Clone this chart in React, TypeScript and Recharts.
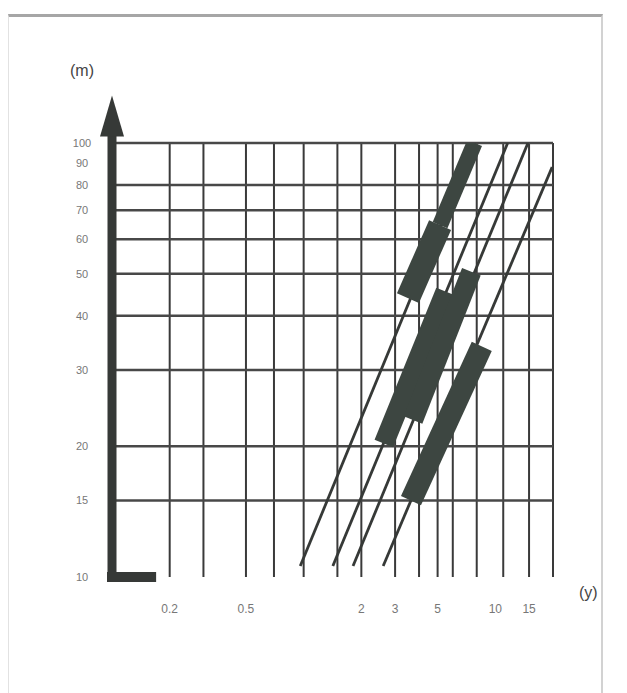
import { LineChart, Line, XAxis, YAxis, CartesianGrid, ReferenceLine } from 'recharts'

// grid positions on the log-log paper
const xGrid = [0.2, 0.3, 0.4, 0.5, 0.6, 0.7, 0.8, 0.9, 1, 1.5, 2, 2.5, 3, 4, 5, 6, 7, 8, 9, 10, 11, 12, 13, 14, 15, 16, 18, 20]
const yGrid = [15, 20, 30, 40, 50, 60, 70, 80, 90, 100]
const xTicks = [0.2, 0.5, 2, 3, 5, 10, 15]
const yTicks = [10, 15, 20, 30, 40, 50, 60, 70, 80, 90, 100]

// thin diagonal lines (x in years, y in metres)
const line1 = [{ x: 0.96, y: 10.6 }, { x: 7.8, y: 100 }]
const line2 = [{ x: 1.42, y: 10.6 }, { x: 11.6, y: 100 }]
const line3 = [{ x: 1.81, y: 10.6 }, { x: 14.8, y: 100 }]
const line4 = [{ x: 2.6, y: 10.6 }, { x: 19.8, y: 88 }]

// thick bands laid over the lines
const bandA1 = [{ x: 3.5, y: 43.9 }, { x: 5.15, y: 64.7 }]
const bandA2 = [{ x: 5.15, y: 64.7 }, { x: 7.8, y: 100 }]
const bandB1 = [{ x: 2.62, y: 20.3 }, { x: 5.5, y: 45.5 }]
const bandB2 = [{ x: 3.72, y: 23 }, { x: 7.5, y: 50.5 }]
const bandC = [{ x: 3.63, y: 15 }, { x: 8.5, y: 34 }]

const thin = [line1, line2, line3, line4]
const bands = [
  { data: bandA1, w: 24 },
  { data: bandA2, w: 16 },
  { data: bandB1, w: 20 },
  { data: bandB2, w: 20 },
  { data: bandC, w: 22 },
]

const ink = '#363937'
const bandInk = '#3d4641'

const Arrow = (p: any) => (
  <g>
    <line x1={p.x1} y1={p.y1} x2={p.x2} y2={p.y2} stroke={ink} strokeWidth={9} />
    <polygon points={`${p.x2 - 12},${p.y2 + 1} ${p.x2 + 12},${p.y2 + 1} ${p.x2},${p.y2 - 40}`} fill={ink} />
  </g>
)

export default function App() {
  return (
    <div style={{ position: 'relative', width: 610, height: 685, fontFamily: '"Liberation Sans", Arial, sans-serif' }}>
      <div style={{
        position: 'absolute', left: 0, top: 6, width: 592, height: 690,
        borderTop: '3px solid #a6a6a6', borderLeft: '1px solid #e2e2e2', borderRight: '2px solid #d2d2d2'
      }} />
      <div style={{ position: 'absolute', left: 0, top: 0 }}>
        <LineChart width={610} height={680} margin={{ top: 135, right: 65, bottom: 81, left: 44 }}>
          <CartesianGrid horizontal={false} verticalValues={xGrid} stroke="#3a3a3a" strokeWidth={2} />
          <CartesianGrid vertical={false} horizontalValues={yGrid} stroke="#484848" strokeWidth={2.5} />
          <XAxis
            dataKey="x" type="number" scale="log" domain={[0.1, 20]} allowDataOverflow
            ticks={xTicks} axisLine={false} tickLine={false} tickSize={0} tickMargin={27} height={30}
            tick={{ fontSize: 12, fill: '#777' }}
            label={{ value: '(y)', position: 'right', offset: 26, fontSize: 16, fill: '#444' }}
          />
          <YAxis
            type="number" scale="log" domain={[10, 100]} allowDataOverflow
            ticks={yTicks} axisLine={false} tickLine={false} tickSize={0} tickMargin={30} width={60}
            tick={{ fontSize: 11, fill: '#777', textAnchor: 'middle' }}
            label={{ value: '(m)', position: 'top', offset: 67, fontSize: 16, fill: '#444' }}
          />
          {thin.map((d, i) => (
            <Line key={'l' + i} data={d} dataKey="y" type="linear" dot={false}
              stroke={ink} strokeWidth={2.8} isAnimationActive={false} />
          ))}
          {bands.map((b, i) => (
            <Line key={'b' + i} data={b.data} dataKey="y" type="linear" dot={false}
              stroke={bandInk} strokeWidth={b.w} isAnimationActive={false} />
          ))}
          <ReferenceLine segment={[{ x: 0.1, y: 10 }, { x: 0.1, y: 104 }]} ifOverflow="visible" shape={Arrow} />
          <ReferenceLine segment={[{ x: 0.1, y: 10 }, { x: 0.16, y: 10 }]} ifOverflow="visible"
            stroke={ink} strokeWidth={10} strokeLinecap="square" />
        </LineChart>
      </div>
    </div>
  )
}
